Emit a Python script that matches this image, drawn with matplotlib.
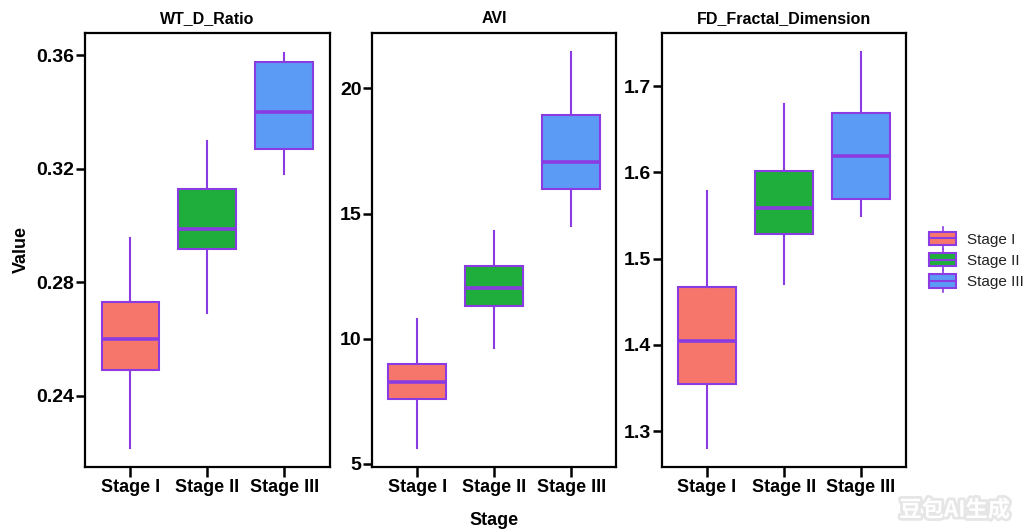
import matplotlib
matplotlib.use('Agg')
import matplotlib.pyplot as plt
import matplotlib.patheffects as pe
from matplotlib.legend_handler import HandlerBase
from matplotlib.patches import Rectangle
from matplotlib.lines import Line2D

plt.rcParams['font.family'] = ['Liberation Sans', 'DejaVu Sans']

stages = ['Stage I', 'Stage II', 'Stage III']
colors = ['#F7766B', '#1FAE3B', '#5B9BF5']
edge = '#8A3BE2'

# whislo, q1, median, q3, whishi per stage
wt_d_ratio = [
    [0.2214, 0.2490, 0.2600, 0.2730, 0.2957],
    [0.2692, 0.2915, 0.2987, 0.3128, 0.3297],
    [0.3180, 0.3268, 0.3399, 0.3574, 0.3609],
]
avi = [
    [5.62, 7.60, 8.26, 8.98, 10.77],
    [9.62, 11.32, 12.04, 12.90, 14.30],
    [14.51, 15.99, 17.07, 18.95, 21.44],
]
fd_fractal = [
    [1.280, 1.3545, 1.4047, 1.4673, 1.5786],
    [1.470, 1.5288, 1.5589, 1.6018, 1.6788],
    [1.549, 1.5690, 1.6192, 1.6690, 1.7391],
]

panels = [
    ('WT_D_Ratio', wt_d_ratio, [0.24, 0.28, 0.32, 0.36], ['0.24', '0.28', '0.32', '0.36'], (0.2148, 0.3678)),
    ('AVI', avi, [5, 10, 15, 20], ['5', '10', '15', '20'], (4.876, 22.21)),
    ('FD_Fractal_Dimension', fd_fractal, [1.3, 1.4, 1.5, 1.6, 1.7], ['1.3', '1.4', '1.5', '1.6', '1.7'], (1.2583, 1.7615)),
]

fig = plt.figure(figsize=(10.3, 5.32), dpi=100)
lefts = [0.0825, 0.361, 0.6424]

for i, (title, vals, ticks, ticklabels, ylim) in enumerate(panels):
    ax = fig.add_axes([lefts[i], 0.1222, 0.2375, 0.8158])
    stats = []
    for name, v in zip(stages, vals):
        stats.append({'label': name, 'whislo': v[0], 'q1': v[1], 'med': v[2],
                      'q3': v[3], 'whishi': v[4], 'fliers': []})
    bp = ax.bxp(stats, positions=[1, 2, 3], widths=0.75, patch_artist=True,
                showcaps=False, showfliers=False,
                boxprops=dict(edgecolor=edge, linewidth=1.5),
                whiskerprops=dict(color=edge, linewidth=1.5),
                medianprops=dict(color=edge, linewidth=2.6))
    for box, c in zip(bp['boxes'], colors):
        box.set_facecolor(c)
    ax.set_xlim(0.41, 3.59)
    ax.set_ylim(*ylim)
    ax.set_yticks(ticks)
    ax.set_yticklabels(ticklabels)
    ax.set_xticks([1, 2, 3])
    ax.set_xticklabels(stages)
    ax.set_title(title, fontsize=11.5, fontweight='bold', pad=7)
    for lab in ax.get_xticklabels() + ax.get_yticklabels():
        lab.set_fontweight('bold')
    ax.tick_params(axis='x', labelsize=13, length=7, width=1.8, pad=2)
    ax.tick_params(axis='y', labelsize=14, length=6.5, width=1.8, pad=1)
    for s in ax.spines.values():
        s.set_linewidth(1.6)
    if i == 0:
        ax.set_ylabel('Value', fontsize=13, fontweight='bold', labelpad=5)
    if i == 1:
        ax.set_xlabel('Stage', fontsize=13, fontweight='bold', labelpad=11)


class BoxHandler(HandlerBase):
    def create_artists(self, legend, orig_handle, xdescent, ydescent, width, height, fontsize, trans):
        c = orig_handle.get_facecolor()
        h = height * 1.1
        y0 = -ydescent + (height - h) / 2
        rect = Rectangle((-xdescent, y0), width, h, facecolor=c, edgecolor=edge,
                         linewidth=1.5, transform=trans)
        med = Line2D([-xdescent, -xdescent + width], [y0 + h / 2] * 2, color=edge,
                     linewidth=1.5, transform=trans)
        wtop = Line2D([-xdescent + width / 2] * 2, [y0 + h, y0 + h + 3], color=edge,
                      linewidth=1.2, transform=trans)
        wbot = Line2D([-xdescent + width / 2] * 2, [y0 - 3, y0], color=edge,
                      linewidth=1.2, transform=trans)
        return [wtop, wbot, rect, med]


handles = [Rectangle((0, 0), 1, 1, facecolor=c) for c in colors]
fig.legend(handles, stages, loc='center left', bbox_to_anchor=(0.893, 0.51),
           frameon=False, fontsize=11, handlelength=1.8, handleheight=0.85,
           handletextpad=0.7, labelspacing=0.45, borderaxespad=0.2,
           labelcolor='#222222', handler_map={Rectangle: BoxHandler()})

fig.text(0.927, 0.041, '豆包AI生成', ha='center', va='center', fontsize=16,
         fontweight='bold', color='white', family=['Noto Sans CJK SC', 'DejaVu Sans'],
         path_effects=[pe.withStroke(linewidth=4, foreground='#e6e6e6')])

fig.savefig('out.png', dpi=100)
